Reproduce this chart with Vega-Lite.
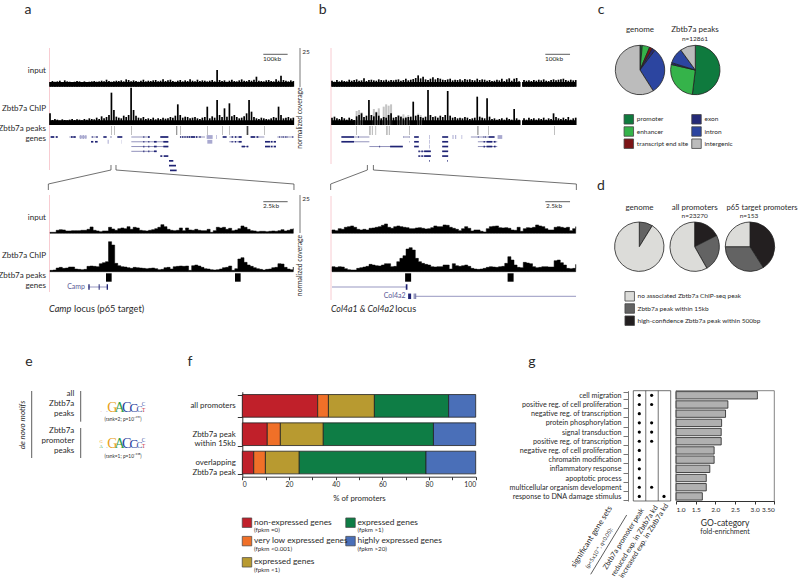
{"$schema":"https://vega.github.io/schema/vega-lite/v6.json","width":798,"height":581,"padding":0,"autosize":{"type":"none"},"background":"white",
"config":{"font":"Lato","view":{"stroke":null},"text":{"baseline":"middle","font":"Lato","fontSize":8,"color":"#2a2a2a"}},
"data":{"values":[{"k":0}]},
"datasets":{
"top":[{"i":0,"ai":14,"ac":35,"bi":18,"bc":22},{"i":1,"ai":17,"ac":15,"bi":15,"bc":25},{"i":2,"ai":15,"ac":18,"bi":20,"bc":20},{"i":3,"ai":16,"ac":16,"bi":16,"bc":18},{"i":4,"ai":18,"ac":13,"bi":19,"bc":24},{"i":5,"ai":14,"ac":17,"bi":17,"bc":20},{"i":6,"ai":19,"ac":15,"bi":16,"bc":16},{"i":7,"ai":16,"ac":14,"bi":21,"bc":22},{"i":8,"ai":15,"ac":16,"bi":18,"bc":18},{"i":9,"ai":13,"ac":18,"bi":20,"bc":15},
{"i":10,"ai":15,"ac":15,"bi":22,"bc":26},{"i":11,"ai":17,"ac":17,"bi":18,"bc":30},{"i":12,"ai":16,"ac":16,"bi":19,"bc":35},{"i":13,"ai":14,"ac":14,"bi":25,"bc":24},{"i":14,"ai":16,"ac":18,"bi":17,"bc":28},{"i":15,"ai":10,"ac":16,"bi":20,"bc":75},{"i":16,"ai":15,"ac":20,"bi":21,"bc":30},{"i":17,"ai":16,"ac":18,"bi":19,"bc":26},{"i":18,"ai":17,"ac":17,"bi":18,"bc":38},{"i":19,"ai":15,"ac":22,"bi":22,"bc":28},
{"i":20,"ai":16,"ac":18,"bi":20,"bc":20},{"i":21,"ai":18,"ac":26,"bi":19,"bc":24},{"i":22,"ai":16,"ac":20,"bi":21,"bc":22},{"i":23,"ai":21,"ac":24,"bi":18,"bc":30},{"i":24,"ai":17,"ac":30,"bi":20,"bc":35},{"i":25,"ai":15,"ac":97,"bi":19,"bc":22},{"i":26,"ai":16,"ac":45,"bi":21,"bc":24},{"i":27,"ai":18,"ac":25,"bi":22,"bc":28},{"i":28,"ai":17,"ac":22,"bi":18,"bc":25},{"i":29,"ai":19,"ac":20,"bi":20,"bc":20},
{"i":30,"ai":16,"ac":28,"bi":24,"bc":22},{"i":31,"ai":22,"ac":24,"bi":19,"bc":24},{"i":32,"ai":20,"ac":30,"bi":21,"bc":25},{"i":33,"ai":16,"ac":112,"bi":23,"bc":70},{"i":34,"ai":19,"ac":45,"bi":26,"bc":28},{"i":35,"ai":17,"ac":28,"bi":34,"bc":30},{"i":36,"ai":15,"ac":22,"bi":25,"bc":24},{"i":37,"ai":18,"ac":20,"bi":30,"bc":22},{"i":38,"ai":21,"ac":24,"bi":22,"bc":25},{"i":39,"ai":16,"ac":18,"bi":20,"bc":105},
{"i":40,"ai":18,"ac":20,"bi":24,"bc":30},{"i":41,"ai":17,"ac":18,"bi":28,"bc":24},{"i":42,"ai":19,"ac":22,"bi":22,"bc":26},{"i":43,"ai":20,"ac":17,"bi":26,"bc":22},{"i":44,"ai":16,"ac":20,"bi":24,"bc":28},{"i":45,"ai":18,"ac":18,"bi":21,"bc":24},{"i":46,"ai":22,"ac":22,"bi":20,"bc":30},{"i":47,"ai":17,"ac":19,"bi":22,"bc":102},{"i":48,"ai":19,"ac":20,"bi":24,"bc":28},{"i":49,"ai":21,"ac":24,"bi":19,"bc":22},
{"i":50,"ai":17,"ac":22,"bi":21,"bc":24},{"i":51,"ai":15,"ac":28,"bi":20,"bc":20},{"i":52,"ai":18,"ac":62,"bi":22,"bc":22},{"i":53,"ai":20,"ac":30,"bi":19,"bc":20},{"i":54,"ai":16,"ac":22,"bi":23,"bc":24},{"i":55,"ai":19,"ac":25,"bi":21,"bc":22},{"i":56,"ai":17,"ac":24,"bi":22,"bc":18},{"i":57,"ai":22,"ac":20,"bi":20,"bc":20},{"i":58,"ai":18,"ac":22,"bi":19,"bc":22},{"i":59,"ai":16,"ac":24,"bi":24,"bc":85},
{"i":60,"ai":21,"ac":20,"bi":20,"bc":25},{"i":61,"ai":17,"ac":18,"bi":22,"bc":22},{"i":62,"ai":19,"ac":22,"bi":21,"bc":20},{"i":63,"ai":18,"ac":24,"bi":18,"bc":80},{"i":64,"ai":16,"ac":55,"bi":20,"bc":25},{"i":65,"ai":18,"ac":20,"bi":17,"bc":18},{"i":66,"ai":20,"ac":26,"bi":18,"bc":20},{"i":67,"ai":16,"ac":22,"bi":21,"bc":16},{"i":68,"ai":50,"ac":75,"bi":19,"bc":18},{"i":69,"ai":20,"ac":30,"bi":24,"bc":20},
{"i":70,"ai":17,"ac":24,"bi":17,"bc":16},{"i":71,"ai":19,"ac":50,"bi":22,"bc":22},{"i":72,"ai":15,"ac":25,"bi":25,"bc":18},{"i":73,"ai":18,"ac":65,"bi":18,"bc":16},{"i":74,"ai":21,"ac":26,"bi":24,"bc":48},{"i":75,"ai":17,"ac":30,"bi":26,"bc":20},{"i":76,"ai":16,"ac":24,"bi":16,"bc":16},{"i":77,"ai":19,"ac":20,"bi":0,"bc":0},{"i":78,"ai":22,"ac":22,"bi":20,"bc":20},{"i":79,"ai":18,"ac":26,"bi":18,"bc":16},
{"i":80,"ai":17,"ac":35,"bi":19,"bc":22},{"i":81,"ai":20,"ac":75,"bi":17,"bc":18},{"i":82,"ai":18,"ac":40,"bi":20,"bc":20},{"i":83,"ai":21,"ac":24,"bi":18,"bc":16},{"i":84,"ai":30,"ac":20,"bi":21,"bc":20},{"i":85,"ai":18,"ac":18,"bi":19,"bc":18},{"i":86,"ai":17,"ac":22,"bi":22,"bc":22},{"i":87,"ai":16,"ac":20,"bi":18,"bc":16},{"i":88,"ai":19,"ac":18,"bi":17,"bc":20},{"i":89,"ai":20,"ac":17,"bi":20,"bc":18},
{"i":90,"ai":17,"ac":20,"bi":22,"bc":35},{"i":91,"ai":16,"ac":24,"bi":19,"bc":24},{"i":92,"ai":22,"ac":22,"bi":21,"bc":20},{"i":93,"ai":18,"ac":55,"bi":22,"bc":18},{"i":94,"ai":33,"ac":30,"bi":24,"bc":22},{"i":95,"ai":20,"ac":20,"bi":20,"bc":18},{"i":96,"ai":18,"ac":22,"bi":18,"bc":24},{"i":97,"ai":16,"ac":24,"bi":21,"bc":16},{"i":98,"ai":19,"ac":20,"bi":19,"bc":20},{"i":99,"ai":17,"ac":22,"bi":20,"bc":22}],
"low":[{"i":0,"ai":3,"ac":4,"bi":10,"bc":15},{"i":1,"ai":3,"ac":5,"bi":8,"bc":13},{"i":2,"ai":9,"ac":11,"bi":14,"bc":15},{"i":3,"ai":11,"ac":13,"bi":12,"bc":14},{"i":4,"ai":10,"ac":10,"bi":18,"bc":9},{"i":5,"ai":7,"ac":11,"bi":20,"bc":6},{"i":6,"ai":7,"ac":14,"bi":22,"bc":5},{"i":7,"ai":8,"ac":14,"bi":18,"bc":5},{"i":8,"ai":8,"ac":8,"bi":12,"bc":10},{"i":9,"ai":8,"ac":7,"bi":10,"bc":12},
{"i":10,"ai":9,"ac":6,"bi":12,"bc":14},{"i":11,"ai":9,"ac":7,"bi":10,"bc":16},{"i":12,"ai":12,"ac":16,"bi":15,"bc":22},{"i":13,"ai":19,"ac":17,"bi":16,"bc":20},{"i":14,"ai":9,"ac":16,"bi":18,"bc":18},{"i":15,"ai":7,"ac":15,"bi":20,"bc":17},{"i":16,"ai":5,"ac":24,"bi":24,"bc":20},{"i":17,"ai":7,"ac":27,"bi":28,"bc":24},{"i":18,"ai":7,"ac":30,"bi":18,"bc":24},{"i":19,"ai":18,"ac":90,"bi":15,"bc":15},
{"i":20,"ai":13,"ac":80,"bi":20,"bc":16},{"i":21,"ai":9,"ac":25,"bi":22,"bc":30},{"i":22,"ai":14,"ac":18,"bi":20,"bc":40},{"i":23,"ai":16,"ac":15,"bi":18,"bc":48},{"i":24,"ai":14,"ac":14,"bi":17,"bc":68},{"i":25,"ai":20,"ac":12,"bi":14,"bc":72},{"i":26,"ai":12,"ac":10,"bi":14,"bc":65},{"i":27,"ai":18,"ac":13,"bi":16,"bc":40},{"i":28,"ai":16,"ac":12,"bi":17,"bc":30},{"i":29,"ai":9,"ac":11,"bi":15,"bc":25},
{"i":30,"ai":8,"ac":10,"bi":13,"bc":22},{"i":31,"ai":7,"ac":9,"bi":14,"bc":20},{"i":32,"ai":9,"ac":10,"bi":17,"bc":15},{"i":33,"ai":11,"ac":11,"bi":22,"bc":14},{"i":34,"ai":14,"ac":9,"bi":20,"bc":15},{"i":35,"ai":18,"ac":6,"bi":20,"bc":15},{"i":36,"ai":26,"ac":7,"bi":25,"bc":20},{"i":37,"ai":20,"ac":12,"bi":24,"bc":20},{"i":38,"ai":12,"ac":13,"bi":18,"bc":8},{"i":39,"ai":9,"ac":8,"bi":15,"bc":24},
{"i":40,"ai":8,"ac":15,"bi":12,"bc":18},{"i":41,"ai":9,"ac":16,"bi":8,"bc":16},{"i":42,"ai":16,"ac":17,"bi":14,"bc":18},{"i":43,"ai":8,"ac":16,"bi":20,"bc":20},{"i":44,"ai":16,"ac":17,"bi":15,"bc":16},{"i":45,"ai":10,"ac":4,"bi":7,"bc":10},{"i":46,"ai":9,"ac":18,"bi":10,"bc":8},{"i":47,"ai":12,"ac":20,"bi":10,"bc":7},{"i":48,"ai":9,"ac":17,"bi":6,"bc":8},{"i":49,"ai":8,"ac":13,"bi":4,"bc":10},
{"i":50,"ai":8,"ac":9,"bi":14,"bc":13},{"i":51,"ai":12,"ac":8,"bi":20,"bc":15},{"i":52,"ai":3,"ac":6,"bi":21,"bc":14},{"i":53,"ai":8,"ac":5,"bi":22,"bc":13},{"i":54,"ai":18,"ac":6,"bi":17,"bc":15},{"i":55,"ai":16,"ac":8,"bi":16,"bc":16},{"i":56,"ai":18,"ac":12,"bi":17,"bc":25},{"i":57,"ai":12,"ac":13,"bi":15,"bc":45},{"i":58,"ai":15,"ac":17,"bi":10,"bc":35},{"i":59,"ai":8,"ac":4,"bi":9,"bc":20},
{"i":60,"ai":10,"ac":9,"bi":18,"bc":13},{"i":61,"ai":14,"ac":38,"bi":6,"bc":12},{"i":62,"ai":22,"ac":42,"bi":14,"bc":28},{"i":63,"ai":18,"ac":28,"bi":17,"bc":26},{"i":64,"ai":12,"ac":20,"bi":16,"bc":24},{"i":65,"ai":8,"ac":16,"bi":18,"bc":15},{"i":66,"ai":7,"ac":12,"bi":25,"bc":12},{"i":67,"ai":5,"ac":9,"bi":22,"bc":13},{"i":68,"ai":6,"ac":7,"bi":20,"bc":15},{"i":69,"ai":6,"ac":5,"bi":14,"bc":15},
{"i":70,"ai":5,"ac":7,"bi":10,"bc":14},{"i":71,"ai":6,"ac":8,"bi":10,"bc":14},{"i":72,"ai":7,"ac":12,"bi":18,"bc":33},{"i":73,"ai":6,"ac":13,"bi":20,"bc":35},{"i":74,"ai":8,"ac":24,"bi":18,"bc":27},{"i":75,"ai":11,"ac":23,"bi":16,"bc":20},{"i":76,"ai":7,"ac":13,"bi":18,"bc":10},{"i":77,"ai":9,"ac":8,"bi":8,"bc":9},{"i":78,"ai":12,"ac":6,"bi":14,"bc":10},{"i":79,"ai":14,"ac":14,"bi":20,"bc":22}],
"genesA":[{"r":0,"s":2,"e":23,"k":"i"},{"r":0,"s":58,"e":78,"k":"i"},{"r":0,"s":88,"e":110,"k":"ip"},{"r":0,"s":123,"e":143,"k":"i"},{"r":0,"s":244,"e":300,"k":"i"},{"r":0,"s":331,"e":355,"k":"i"},{"r":0,"s":390,"e":465,"k":"i"},{"r":0,"s":538,"e":575,"k":"i"},{"r":0,"s":602,"e":643,"k":"i"},{"r":0,"s":682,"e":730,"k":"i"},
{"r":0,"s":2,"e":12,"k":"e"},{"r":0,"s":18,"e":23,"k":"e"},{"r":0,"s":63,"e":68,"k":"e"},{"r":0,"s":70,"e":77,"k":"e"},{"r":0,"s":90,"e":94,"k":"ep"},{"r":0,"s":98,"e":102,"k":"ep"},{"r":0,"s":106,"e":109,"k":"ep"},{"r":0,"s":126,"e":128,"k":"e"},{"r":0,"s":138,"e":140,"k":"e"},{"r":0,"s":142,"e":144,"k":"e"},{"r":0,"s":160,"e":170,"k":"e"},{"r":0,"s":182,"e":184,"k":"e"},{"r":0,"s":202,"e":217,"k":"e"},{"r":0,"s":280,"e":283,"k":"e"},{"r":0,"s":294,"e":299,"k":"e"},{"r":0,"s":331,"e":355,"k":"e"},{"r":0,"s":390,"e":393,"k":"e"},{"r":0,"s":396,"e":399,"k":"e"},{"r":0,"s":401,"e":404,"k":"e"},{"r":0,"s":406,"e":409,"k":"e"},{"r":0,"s":411,"e":414,"k":"e"},{"r":0,"s":416,"e":421,"k":"e"},{"r":0,"s":423,"e":435,"k":"e"},{"r":0,"s":438,"e":442,"k":"e"},{"r":0,"s":448,"e":452,"k":"e"},{"r":0,"s":470,"e":488,"k":"ep"},{"r":0,"s":499,"e":501,"k":"ep"},{"r":0,"s":518,"e":530,"k":"e"},{"r":0,"s":545,"e":549,"k":"e"},{"r":0,"s":555,"e":559,"k":"e"},{"r":0,"s":566,"e":575,"k":"e"},{"r":0,"s":602,"e":615,"k":"e"},{"r":0,"s":620,"e":625,"k":"e"},{"r":0,"s":688,"e":690,"k":"e"},{"r":0,"s":695,"e":697,"k":"e"},{"r":0,"s":700,"e":702,"k":"e"},{"r":0,"s":706,"e":708,"k":"e"},{"r":0,"s":710,"e":712,"k":"e"},{"r":0,"s":727,"e":730,"k":"e"},
{"r":1,"s":123,"e":130,"k":"e"},{"r":1,"s":135,"e":143,"k":"e"},{"r":1,"s":173,"e":176,"k":"ep"},{"r":1,"s":214,"e":215,"k":"ep"},{"r":1,"s":244,"e":355,"k":"i"},{"r":1,"s":280,"e":283,"k":"e"},{"r":1,"s":295,"e":298,"k":"e"},{"r":1,"s":312,"e":320,"k":"e"},{"r":1,"s":340,"e":355,"k":"e"},{"r":1,"s":472,"e":487,"k":"ep"},{"r":1,"s":538,"e":575,"k":"i"},{"r":1,"s":545,"e":548,"k":"e"},{"r":1,"s":555,"e":558,"k":"e"},{"r":1,"s":566,"e":575,"k":"e"},{"r":1,"s":645,"e":660,"k":"e"},{"r":1,"s":662,"e":668,"k":"e"},{"r":1,"s":671,"e":678,"k":"e"},
{"r":2,"s":244,"e":355,"k":"i"},{"r":2,"s":280,"e":283,"k":"e"},{"r":2,"s":295,"e":298,"k":"e"},{"r":2,"s":312,"e":320,"k":"e"},{"r":2,"s":340,"e":355,"k":"e"},{"r":2,"s":575,"e":595,"k":"i"},{"r":2,"s":575,"e":585,"k":"e"},{"r":2,"s":590,"e":595,"k":"e"},{"r":2,"s":645,"e":660,"k":"e"},{"r":2,"s":662,"e":668,"k":"e"},{"r":2,"s":671,"e":678,"k":"e"},
{"r":3,"s":244,"e":320,"k":"i"},{"r":3,"s":280,"e":283,"k":"e"},{"r":3,"s":295,"e":298,"k":"e"},{"r":3,"s":312,"e":320,"k":"e"},{"r":4,"s":331,"e":337,"k":"e"},{"r":4,"s":341,"e":355,"k":"e"},{"r":5,"s":357,"e":370,"k":"e"},{"r":6,"s":357,"e":378,"k":"e"},{"r":7,"s":360,"e":380,"k":"e"}],
"genesB":[{"r":0,"s":66,"e":112,"k":"i"},{"r":0,"s":28,"e":66,"k":"e"},{"r":0,"s":78,"e":80,"k":"e"},{"r":0,"s":214,"e":232,"k":"i"},{"r":0,"s":214,"e":215,"k":"e"},{"r":0,"s":231,"e":232,"k":"e"},{"r":0,"s":246,"e":260,"k":"e"},{"r":0,"s":291,"e":293,"k":"ep"},{"r":0,"s":330,"e":348,"k":"e"},{"r":0,"s":361,"e":364,"k":"ep"},{"r":0,"s":369,"e":372,"k":"ep"},{"r":0,"s":388,"e":390,"k":"ep"},{"r":0,"s":416,"e":469,"k":"i"},{"r":0,"s":437,"e":439,"k":"e"},{"r":0,"s":454,"e":456,"k":"e"},{"r":0,"s":459,"e":461,"k":"e"},{"r":0,"s":469,"e":487,"k":"e"},{"r":0,"s":496,"e":510,"k":"ep"},
{"r":1,"s":66,"e":112,"k":"i"},{"r":1,"s":28,"e":66,"k":"e"},{"r":1,"s":232,"e":233,"k":"e"},{"r":1,"s":246,"e":260,"k":"e"},{"r":1,"s":291,"e":293,"k":"ep"},{"r":1,"s":330,"e":348,"k":"e"},{"r":1,"s":437,"e":495,"k":"i"},{"r":1,"s":454,"e":458,"k":"e"},{"r":1,"s":463,"e":480,"k":"e"},{"r":1,"s":485,"e":490,"k":"e"},
{"r":2,"s":112,"e":212,"k":"i"},{"r":2,"s":142,"e":144,"k":"e"},{"r":2,"s":174,"e":212,"k":"e"},{"r":2,"s":246,"e":260,"k":"e"},{"r":2,"s":291,"e":293,"k":"ep"},{"r":2,"s":330,"e":348,"k":"e"},{"r":2,"s":437,"e":495,"k":"i"},{"r":2,"s":454,"e":458,"k":"e"},{"r":2,"s":463,"e":480,"k":"e"},{"r":2,"s":485,"e":490,"k":"e"},
{"r":3,"s":259,"e":296,"k":"i"},{"r":3,"s":259,"e":263,"k":"e"},{"r":3,"s":268,"e":272,"k":"e"},{"r":3,"s":276,"e":296,"k":"e"},{"r":3,"s":330,"e":348,"k":"e"},{"r":4,"s":259,"e":296,"k":"i"},{"r":4,"s":259,"e":263,"k":"e"},{"r":4,"s":268,"e":272,"k":"e"},{"r":4,"s":276,"e":296,"k":"e"},{"r":4,"s":330,"e":348,"k":"e"},{"r":5,"s":291,"e":293,"k":"e"},{"r":5,"s":345,"e":347,"k":"e"}],
"go":[{"term":"cell migration","fe":3.07},{"term":"positive reg. of cell proliferation","fe":2.32},{"term":"negative reg. of transcription","fe":2.26},{"term":"protein phosphorylation","fe":2.16},{"term":"signal transduction","fe":2.15},{"term":"positive reg. of transcription","fe":2.15},{"term":"negative reg. of cell proliferation","fe":1.97},{"term":"chromatin modification","fe":1.97},{"term":"inflammatory response","fe":1.86},{"term":"apoptotic process","fe":1.77},{"term":"multicellular organism development","fe":1.77},{"term":"response to DNA damage stimulus","fe":1.67}],
"dots":[{"term":"cell migration","set":"peak"},{"term":"cell migration","set":"reduced"},{"term":"positive reg. of cell proliferation","set":"peak"},{"term":"positive reg. of cell proliferation","set":"reduced"},{"term":"negative reg. of transcription","set":"peak"},{"term":"protein phosphorylation","set":"peak"},{"term":"protein phosphorylation","set":"reduced"},{"term":"signal transduction","set":"peak"},{"term":"signal transduction","set":"reduced"},{"term":"positive reg. of transcription","set":"peak"},{"term":"positive reg. of transcription","set":"reduced"},{"term":"negative reg. of cell proliferation","set":"peak"},{"term":"chromatin modification","set":"peak"},{"term":"inflammatory response","set":"peak"},{"term":"apoptotic process","set":"peak"},{"term":"multicellular organism development","set":"peak"},{"term":"multicellular organism development","set":"reduced"},{"term":"response to DNA damage stimulus","set":"peak"},{"term":"response to DNA damage stimulus","set":"increased"}],
"expr":[{"c":"all promoters","g":"non-expressed genes","o":1,"p":32.3},{"c":"all promoters","g":"very low expressed genes","o":2,"p":4.6},{"c":"all promoters","g":"expressed genes (fpkm <1)","o":3,"p":19.7},{"c":"all promoters","g":"expressed genes (fpkm >1)","o":4,"p":31.8},{"c":"all promoters","g":"highly expressed genes","o":5,"p":11.6},
{"c":"Zbtb7a peak|within 15kb","g":"non-expressed genes","o":1,"p":10.7},{"c":"Zbtb7a peak|within 15kb","g":"very low expressed genes","o":2,"p":5.6},{"c":"Zbtb7a peak|within 15kb","g":"expressed genes (fpkm <1)","o":3,"p":18.4},{"c":"Zbtb7a peak|within 15kb","g":"expressed genes (fpkm >1)","o":4,"p":47.2},{"c":"Zbtb7a peak|within 15kb","g":"highly expressed genes","o":5,"p":18.1},
{"c":"overlapping|Zbtb7a peak","g":"non-expressed genes","o":1,"p":4.9},{"c":"overlapping|Zbtb7a peak","g":"very low expressed genes","o":2,"p":5},{"c":"overlapping|Zbtb7a peak","g":"expressed genes (fpkm <1)","o":3,"p":14.5},{"c":"overlapping|Zbtb7a peak","g":"expressed genes (fpkm >1)","o":4,"p":54.3},{"c":"overlapping|Zbtb7a peak","g":"highly expressed genes","o":5,"p":21.3}],
"exprLegend":[{"g":"non-expressed genes","col":"a","row":0,"main":"non-expressed genes","sub":"(fpkm =0)"},{"g":"very low expressed genes","col":"a","row":1,"main":"very low expressed genes","sub":"(fpkm <0.001)"},{"g":"expressed genes (fpkm <1)","col":"a","row":2.15,"main":"expressed genes","sub":"(fpkm <1)"},{"g":"expressed genes (fpkm >1)","col":"b","row":0,"main":"expressed genes","sub":"(fpkm >1)"},{"g":"highly expressed genes","col":"b","row":1,"main":"highly expressed genes","sub":"(fpkm >20)"}],
"pieC":[{"pie":"genome","cl":"promoter","a":0,"b":1.5},{"pie":"genome","cl":"enhancer","a":1.5,"b":6.4},{"pie":"genome","cl":"transcript end site","a":6.4,"b":8.3},{"pie":"genome","cl":"exon","a":8.3,"b":10.3},{"pie":"genome","cl":"intron","a":10.3,"b":41},{"pie":"genome","cl":"intergenic","a":41,"b":100},{"pie":"peaks","cl":"promoter","a":0,"b":51.9},{"pie":"peaks","cl":"enhancer","a":51.9,"b":78.6},{"pie":"peaks","cl":"exon","a":78.6,"b":79.8},{"pie":"peaks","cl":"intron","a":79.8,"b":90},{"pie":"peaks","cl":"intergenic","a":90,"b":100}],
"pieD":[{"pie":"genome","cl":"within15","a":0,"b":8.8},{"pie":"genome","cl":"none","a":8.8,"b":100},{"pie":"all","cl":"high","a":0,"b":17.5},{"pie":"all","cl":"within15","a":17.5,"b":41.8},{"pie":"all","cl":"none","a":41.8,"b":100},{"pie":"p65","cl":"high","a":0,"b":41},{"pie":"p65","cl":"within15","a":41,"b":75},{"pie":"p65","cl":"none","a":75,"b":100}],
"logo1":[{"pos":0,"base":0,"l":"T","bits":0.25},{"pos":1,"base":0,"l":"C","bits":0.3},{"pos":1.9,"base":0,"l":"G","bits":1.9},{"pos":3.1,"base":0,"l":"A","bits":1.9},{"pos":4.3,"base":0,"l":"C","bits":1.9},{"pos":5.45,"base":0,"l":"C","bits":1.7},{"pos":6.4,"base":0,"l":"C","bits":1.2},{"pos":7.1,"base":0.8,"l":"C","bits":0.7},{"pos":7.1,"base":0,"l":"T","bits":0.7}],
"logo2":[{"pos":0,"base":0.7,"l":"G","bits":0.6},{"pos":0,"base":0,"l":"A","bits":0.6},{"pos":1,"base":0,"l":"C","bits":0.3},{"pos":1.9,"base":0,"l":"G","bits":1.9},{"pos":3.1,"base":0,"l":"A","bits":1.9},{"pos":4.3,"base":0,"l":"C","bits":1.9},{"pos":5.45,"base":0,"l":"C","bits":1.7},{"pos":6.4,"base":0,"l":"C","bits":1.2},{"pos":7.1,"base":0.8,"l":"C","bits":0.7},{"pos":7.1,"base":0,"l":"T","bits":0.7}]
},
"resolve":{"scale":{"x":"independent","y":"independent","color":"independent","strokeWidth":"independent","size":"independent","theta":"independent"},"axis":{"x":"independent","y":"independent"}},
"layer":[
{"mark":{"type":"rule","color":"#f8ccd2","strokeWidth":1},"encoding":{"x":{"value":49.5},"y":{"value":48},"y2":{"value":170}}},
{"mark":{"type":"rule","color":"#f8ccd2","strokeWidth":1},"encoding":{"x":{"value":49.5},"y":{"value":195},"y2":{"value":292}}},
{"mark":{"type":"rule","color":"#f8ccd2","strokeWidth":1},"encoding":{"x":{"value":331},"y":{"value":48},"y2":{"value":164}}},
{"mark":{"type":"rule","color":"#f8ccd2","strokeWidth":1},"encoding":{"x":{"value":331},"y":{"value":196},"y2":{"value":300}}},

{"data":{"values":[{"s":0,"e":99,"h":14}]},"mark":{"type":"rect","color":"black"},"encoding":{"x":{"field":"s","type":"quantitative","axis":null,"scale":{"domain":[0,99],"range":[50,293.3],"nice":false}},"x2":{"field":"e"},"y":{"field":"h","type":"quantitative","axis":null,"scale":{"domain":[0,114],"range":[86.7,48.7],"nice":false}},"y2":{"datum":0}}},
{"data":{"values":[{"s":0,"e":99,"h":14}]},"mark":{"type":"rect","color":"black"},"encoding":{"x":{"field":"s","type":"quantitative","axis":null,"scale":{"domain":[0,99],"range":[50,293.3],"nice":false}},"x2":{"field":"e"},"y":{"field":"h","type":"quantitative","axis":null,"scale":{"domain":[0,114],"range":[125,87],"nice":false}},"y2":{"datum":0}}},
{"data":{"values":[{"s":0,"e":76.6,"h":14},{"s":77.2,"e":99,"h":14}]},"mark":{"type":"rect","color":"black"},"encoding":{"x":{"field":"s","type":"quantitative","axis":null,"scale":{"domain":[0,99],"range":[332,575.7],"nice":false}},"x2":{"field":"e"},"y":{"field":"h","type":"quantitative","axis":null,"scale":{"domain":[0,114],"range":[86.7,48.7],"nice":false}},"y2":{"datum":0}}},
{"data":{"values":[{"s":0,"e":76.6,"h":14},{"s":77.2,"e":99,"h":14}]},"mark":{"type":"rect","color":"black"},"encoding":{"x":{"field":"s","type":"quantitative","axis":null,"scale":{"domain":[0,99],"range":[332,575.7],"nice":false}},"x2":{"field":"e"},"y":{"field":"h","type":"quantitative","axis":null,"scale":{"domain":[0,114],"range":[125,87],"nice":false}},"y2":{"datum":0}}},
{"data":{"values":[{"i":10,"v":42},{"i":11,"v":45},{"i":12,"v":38},{"i":17,"v":48},{"i":18,"v":40},{"i":19,"v":50},{"i":21,"v":55},{"i":22,"v":62},{"i":23,"v":58},{"i":24,"v":62},{"i":27,"v":30},{"i":28,"v":26},{"i":29,"v":32},{"i":30,"v":25},{"i":31,"v":30},{"i":35,"v":34},{"i":36,"v":30}]},"mark":{"type":"rule","color":"#c4c4c4","strokeWidth":2},"encoding":{"x":{"field":"i","type":"quantitative","axis":null,"scale":{"domain":[0,99],"range":[332,575.7],"nice":false}},"y":{"field":"v","type":"quantitative","axis":null,"scale":{"domain":[0,114],"range":[125,87],"nice":false}},"y2":{"datum":0}}},
{"data":{"name":"top"},"mark":{"type":"rule","color":"black","strokeWidth":1.7},"encoding":{"x":{"field":"i","type":"quantitative","axis":null,"scale":{"domain":[0,99],"range":[50,293.3],"nice":false}},"y":{"field":"ai","type":"quantitative","axis":null,"scale":{"domain":[0,114],"range":[86.7,48.7],"nice":false}},"y2":{"datum":0}}},
{"data":{"name":"top"},"mark":{"type":"rule","color":"black","strokeWidth":1.7},"encoding":{"x":{"field":"i","type":"quantitative","axis":null,"scale":{"domain":[0,99],"range":[50,293.3],"nice":false}},"y":{"field":"ac","type":"quantitative","axis":null,"scale":{"domain":[0,114],"range":[125,87],"nice":false}},"y2":{"datum":0}}},
{"data":{"name":"top"},"mark":{"type":"rule","color":"black","strokeWidth":1.7},"encoding":{"x":{"field":"i","type":"quantitative","axis":null,"scale":{"domain":[0,99],"range":[332,575.7],"nice":false}},"y":{"field":"bi","type":"quantitative","axis":null,"scale":{"domain":[0,114],"range":[86.7,48.7],"nice":false}},"y2":{"datum":0}}},
{"data":{"name":"top"},"mark":{"type":"rule","color":"black","strokeWidth":1.7},"encoding":{"x":{"field":"i","type":"quantitative","axis":null,"scale":{"domain":[0,99],"range":[332,575.7],"nice":false}},"y":{"field":"bc","type":"quantitative","axis":null,"scale":{"domain":[0,114],"range":[125,87],"nice":false}},"y2":{"datum":0}}},

{"data":{"name":"low"},"mark":{"type":"area","interpolate":"step-after","color":"black","stroke":"black","strokeWidth":0.5},"encoding":{"x":{"field":"i","type":"quantitative","axis":null,"scale":{"domain":[0,79],"range":[50,293.3],"nice":false}},"y":{"field":"ai","type":"quantitative","axis":null,"scale":{"domain":[0,114],"range":[233.3,195.3],"nice":false}}}},
{"data":{"name":"low"},"mark":{"type":"area","interpolate":"step-after","color":"black","stroke":"black","strokeWidth":0.5},"encoding":{"x":{"field":"i","type":"quantitative","axis":null,"scale":{"domain":[0,79],"range":[50,293.3],"nice":false}},"y":{"field":"ac","type":"quantitative","axis":null,"scale":{"domain":[0,114],"range":[271.7,233.7],"nice":false}}}},
{"data":{"name":"low"},"mark":{"type":"area","interpolate":"step-after","color":"black","stroke":"black","strokeWidth":0.5},"encoding":{"x":{"field":"i","type":"quantitative","axis":null,"scale":{"domain":[0,79],"range":[332,575.7],"nice":false}},"y":{"field":"bi","type":"quantitative","axis":null,"scale":{"domain":[0,114],"range":[233.3,195.3],"nice":false}}}},
{"data":{"name":"low"},"mark":{"type":"area","interpolate":"step-after","color":"black","stroke":"black","strokeWidth":0.5},"encoding":{"x":{"field":"i","type":"quantitative","axis":null,"scale":{"domain":[0,79],"range":[332,575.7],"nice":false}},"y":{"field":"bc","type":"quantitative","axis":null,"scale":{"domain":[0,114],"range":[271.7,233.7],"nice":false}}}},

{"data":{"values":[{"s":184,"e":185,"t":"d"},{"s":193,"e":194,"t":"d"},{"s":244,"e":245,"t":"d"},{"s":378,"e":382,"t":"g"},{"s":391,"e":392,"t":"d"},{"s":472,"e":473,"t":"d"},{"s":517,"e":518,"t":"d"},{"s":538,"e":539,"t":"d"},{"s":590,"e":595,"t":"d"},{"s":643,"e":644,"t":"d"}]},"mark":{"type":"rect"},"encoding":{"x":{"field":"s","type":"quantitative","axis":null,"scale":{"domain":[0,730],"range":[50,293.3],"nice":false}},"x2":{"field":"e"},"y":{"value":126},"y2":{"value":135},"color":{"field":"t","type":"nominal","legend":null,"scale":{"domain":["d","g"],"range":["#444444","#999999"]}}}},
{"data":{"values":[{"s":73,"e":74,"t":"d"},{"s":112,"e":113,"t":"d"},{"s":116,"e":117,"t":"d"},{"s":120,"e":121,"t":"d"},{"s":131,"e":132,"t":"d"},{"s":162,"e":163,"t":"d"},{"s":167,"e":168,"t":"d"},{"s":172,"e":173,"t":"d"},{"s":232,"e":233,"t":"d"},{"s":435,"e":439,"t":"g"},{"s":469,"e":470,"t":"d"},{"s":667,"e":668,"t":"d"}]},"mark":{"type":"rect"},"encoding":{"x":{"field":"s","type":"quantitative","axis":null,"scale":{"domain":[0,730],"range":[332,575.7],"nice":false}},"x2":{"field":"e"},"y":{"value":126},"y2":{"value":135},"color":{"field":"t","type":"nominal","legend":null,"scale":{"domain":["d","g"],"range":["#444444","#999999"]}}}},

{"data":{"name":"genesA"},"mark":{"type":"rule"},"encoding":{"x":{"field":"s","type":"quantitative","axis":null,"scale":{"domain":[0,730],"range":[50,293.3],"nice":false}},"x2":{"field":"e"},"y":{"field":"r","type":"quantitative","axis":null,"scale":{"domain":[0,7],"range":[137,170.4],"nice":false}},"color":{"field":"k","type":"nominal","legend":null,"scale":{"domain":["i","e","ip","ep"],"range":["#4a4a8e","#1f2374","#b5b5d5","#a9a9d0"]}},"strokeWidth":{"field":"k","type":"nominal","legend":null,"scale":{"domain":["i","e","ip","ep"],"range":[0.6,3.8,0.6,3.8]}}}},
{"data":{"name":"genesB"},"mark":{"type":"rule"},"encoding":{"x":{"field":"s","type":"quantitative","axis":null,"scale":{"domain":[0,730],"range":[332,575.7],"nice":false}},"x2":{"field":"e"},"y":{"field":"r","type":"quantitative","axis":null,"scale":{"domain":[0,7],"range":[137,170.4],"nice":false}},"color":{"field":"k","type":"nominal","legend":null,"scale":{"domain":["i","e","ip","ep"],"range":["#4a4a8e","#1f2374","#b5b5d5","#a9a9d0"]}},"strokeWidth":{"field":"k","type":"nominal","legend":null,"scale":{"domain":["i","e","ip","ep"],"range":[0.6,3.8,0.6,3.8]}}}},

{"data":{"values":[{"side":"l","x":-5,"y":0},{"side":"l","x":-5,"y":6},{"side":"l","x":183,"y":20},{"side":"l","x":183,"y":25},{"side":"r","x":198,"y":25},{"side":"r","x":198,"y":20},{"side":"r","x":732,"y":6},{"side":"r","x":732,"y":0}]},"mark":{"type":"line","color":"#333333","strokeWidth":0.7},"encoding":{"x":{"field":"x","type":"quantitative","axis":null,"scale":{"domain":[0,730],"range":[50,293.3],"nice":false}},"y":{"field":"y","type":"quantitative","axis":null,"scale":{"domain":[0,25],"range":[190,165],"nice":false}},"detail":{"field":"side"},"order":{"value":0}}},
{"data":{"values":[{"side":"l","x":-4,"y":0},{"side":"l","x":-4,"y":6},{"side":"l","x":106,"y":20},{"side":"l","x":106,"y":25},{"side":"r","x":124,"y":25},{"side":"r","x":124,"y":20},{"side":"r","x":732,"y":6},{"side":"r","x":732,"y":0}]},"mark":{"type":"line","color":"#333333","strokeWidth":0.7},"encoding":{"x":{"field":"x","type":"quantitative","axis":null,"scale":{"domain":[0,730],"range":[332,575.7],"nice":false}},"y":{"field":"y","type":"quantitative","axis":null,"scale":{"domain":[0,25],"range":[190,165],"nice":false}},"detail":{"field":"side"},"order":{"value":0}}},

{"data":{"values":[{"s":640,"e":713,"lv":"top"},{"s":640,"e":713,"lv":"low"}]},"mark":{"type":"rule","color":"#333333","strokeWidth":0.8},"encoding":{"x":{"field":"s","type":"quantitative","axis":null,"scale":{"domain":[0,730],"range":[50,293.3],"nice":false}},"x2":{"field":"e"},"y":{"field":"lv","type":"nominal","axis":null,"scale":{"type":"point","domain":["top","low"],"range":[54.3,201.7],"padding":0}}}},
{"data":{"values":[{"s":639,"e":713,"lv":"top"},{"s":639,"e":713,"lv":"low"}]},"mark":{"type":"rule","color":"#333333","strokeWidth":0.8},"encoding":{"x":{"field":"s","type":"quantitative","axis":null,"scale":{"domain":[0,730],"range":[332,575.7],"nice":false}},"x2":{"field":"e"},"y":{"field":"lv","type":"nominal","axis":null,"scale":{"type":"point","domain":["top","low"],"range":[54.3,201.7],"padding":0}}}},

{"data":{"values":[{"s":168,"e":185},{"s":555,"e":572}]},"mark":{"type":"rect","color":"black"},"encoding":{"x":{"field":"s","type":"quantitative","axis":null,"scale":{"domain":[0,730],"range":[50,293.3],"nice":false}},"x2":{"field":"e"},"y":{"value":273.3},"y2":{"value":281.7}}},
{"data":{"values":[{"s":219,"e":237},{"s":526,"e":544}]},"mark":{"type":"rect","color":"black"},"encoding":{"x":{"field":"s","type":"quantitative","axis":null,"scale":{"domain":[0,730],"range":[332,575.7],"nice":false}},"x2":{"field":"e"},"y":{"value":273.3},"y2":{"value":281.7}}},
{"data":{"values":[{"s":115,"e":174,"k":"i"},{"s":115,"e":119,"k":"e"},{"s":146,"e":149,"k":"e"},{"s":170,"e":174,"k":"e"}]},"mark":{"type":"rule"},"encoding":{"x":{"field":"s","type":"quantitative","axis":null,"scale":{"domain":[0,730],"range":[50,293.3],"nice":false}},"x2":{"field":"e"},"y":{"value":287},"color":{"field":"k","type":"nominal","legend":null,"scale":{"domain":["i","e"],"range":["#6a6aa6","#1f2374"]}},"strokeWidth":{"field":"k","type":"nominal","legend":null,"scale":{"domain":["i","e"],"range":[0.7,5.5]}}}},
{"data":{"values":[{"r":0,"s":0,"e":224,"k":"i"},{"r":0,"s":221,"e":226,"k":"e"},{"r":1,"s":228,"e":237,"k":"e"},{"r":1,"s":245,"e":247,"k":"e"},{"r":1,"s":250,"e":252,"k":"e"},{"r":1,"s":250,"e":731,"k":"i"}]},"mark":{"type":"rule"},"encoding":{"x":{"field":"s","type":"quantitative","axis":null,"scale":{"domain":[0,730],"range":[332,575.7],"nice":false}},"x2":{"field":"e"},"y":{"field":"r","type":"quantitative","axis":null,"scale":{"domain":[0,1],"range":[287,296.3],"nice":false}},"color":{"field":"k","type":"nominal","legend":null,"scale":{"domain":["i","e"],"range":["#6a6aa6","#1f2374"]}},"strokeWidth":{"field":"k","type":"nominal","legend":null,"scale":{"domain":["i","e"],"range":[0.7,5.5]}}}},

{"mark":{"type":"rule","color":"#555555","strokeWidth":0.8},"encoding":{"x":{"value":300},"y":{"value":48},"y2":{"value":87}}},
{"mark":{"type":"rule","color":"#555555","strokeWidth":0.8},"encoding":{"x":{"value":300},"y":{"value":195},"y2":{"value":233}}},

{"data":{"name":"pieC"},"mark":{"type":"arc","outerRadius":24.7,"stroke":"#222222","strokeWidth":0.8},"encoding":{"x":{"field":"pie","type":"nominal","axis":null,"scale":{"type":"point","domain":["genome","peaks"],"range":[640,695.3],"padding":0}},"y":{"value":70},"theta":{"field":"a","type":"quantitative","scale":{"domain":[0,100],"range":[0,6.2832]}},"theta2":{"field":"b"},"color":{"field":"cl","type":"nominal","legend":null,"scale":{"domain":["promoter","enhancer","transcript end site","exon","intron","intergenic"],"range":["#0f7a3e","#35b34a","#7b1416","#252a77","#2c45a0","#bcbcbc"]}}}},
{"data":{"name":"pieD"},"mark":{"type":"arc","outerRadius":24.7,"stroke":"#222222","strokeWidth":0.8},"encoding":{"x":{"field":"pie","type":"nominal","axis":null,"scale":{"type":"point","domain":["genome","all","p65"],"range":[639.3,750],"padding":0}},"y":{"value":246.7},"theta":{"field":"a","type":"quantitative","scale":{"domain":[0,100],"range":[0,6.2832]}},"theta2":{"field":"b"},"color":{"field":"cl","type":"nominal","legend":null,"scale":{"domain":["none","within15","high"],"range":["#dcdcd9","#636363","#231f20"]}}}},

{"data":{"values":[{"cl":"promoter","col":"a","row":"1"},{"cl":"enhancer","col":"a","row":"2"},{"cl":"transcript end site","col":"a","row":"3"},{"cl":"exon","col":"b","row":"1"},{"cl":"intron","col":"b","row":"2"},{"cl":"intergenic","col":"b","row":"3"}]},"layer":[
{"mark":{"type":"square","size":90,"opacity":1,"stroke":"#444444","strokeWidth":0.8},"encoding":{"x":{"field":"col","type":"nominal","axis":null,"scale":{"type":"point","domain":["a","b"],"range":[628.8,696.5],"padding":0}},"y":{"field":"row","type":"nominal","axis":null,"scale":{"type":"point","domain":["1","2","3"],"range":[119.3,143.7],"padding":0}},"color":{"field":"cl","type":"nominal","legend":null,"scale":{"domain":["promoter","enhancer","transcript end site","exon","intron","intergenic"],"range":["#0f7a3e","#35b34a","#7b1416","#252a77","#2c45a0","#bcbcbc"]}}}},
{"mark":{"type":"text","align":"left","dx":8,"fontSize":6.5},"encoding":{"x":{"field":"col","type":"nominal","axis":null,"scale":{"type":"point","domain":["a","b"],"range":[628.8,696.5],"padding":0}},"y":{"field":"row","type":"nominal","axis":null,"scale":{"type":"point","domain":["1","2","3"],"range":[119.3,143.7],"padding":0}},"text":{"field":"cl"}}}],"resolve":{"scale":{"x":"shared","y":"shared"}}},
{"data":{"values":[{"cl":"none","t":"no associated Zbtb7a ChIP-seq peak"},{"cl":"within15","t":"Zbtb7a peak within 15kb"},{"cl":"high","t":"high-confidence Zbtb7a peak within 500bp"}]},"layer":[
{"mark":{"type":"square","size":90,"opacity":1,"stroke":"#444444","strokeWidth":0.8,"x":629.7},"encoding":{"y":{"field":"cl","type":"nominal","axis":null,"scale":{"type":"point","domain":["none","within15","high"],"range":[296.3,320.7],"padding":0}},"color":{"field":"cl","type":"nominal","legend":null,"scale":{"domain":["none","within15","high"],"range":["#dcdcd9","#636363","#231f20"]}}}},
{"mark":{"type":"text","align":"left","x":637.5,"fontSize":6.5},"encoding":{"y":{"field":"cl","type":"nominal","axis":null,"scale":{"type":"point","domain":["none","within15","high"],"range":[296.3,320.7],"padding":0}},"text":{"field":"t"}}}],"resolve":{"scale":{"y":"shared"}}},

{"data":{"name":"expr"},"mark":{"type":"bar","stroke":"#222222","strokeWidth":0.8},"encoding":{"x":{"field":"p","type":"quantitative","stack":"zero","scale":{"domain":[0,100],"range":[242.3,475.7],"nice":false},"axis":{"orient":"bottom","offset":-104.3,"values":[0,10,20,30,40,50,60,70,80,90,100],"labelExpr":"datum.value % 20 == 0 ? datum.label : ''","grid":false,"tickSize":3,"tickColor":"#333333","domainColor":"#333333","labelFontSize":6.8,"labelPadding":2,"labelColor":"#2a2a2a","title":"% of promoters","titleFontSize":7.8,"titleFontWeight":"normal","titleColor":"#2a2a2a","titlePadding":6}},"y":{"field":"c","type":"nominal","sort":null,"scale":{"type":"band","domain":["all promoters","Zbtb7a peak|within 15kb","overlapping|Zbtb7a peak"],"range":[391.7,476.7],"paddingInner":0.2,"paddingOuter":0.1},"axis":{"orient":"left","offset":-242.3,"title":null,"tickBand":"extent","tickSize":5,"tickColor":"#333333","domainColor":"#333333","labelFontSize":7.9,"labelPadding":2,"labelColor":"#2a2a2a","labelLineHeight":9.5,"labelExpr":"split(datum.label,'|')"}},"order":{"field":"o"},"color":{"field":"g","type":"nominal","legend":null,"scale":{"domain":["non-expressed genes","very low expressed genes","expressed genes (fpkm <1)","expressed genes (fpkm >1)","highly expressed genes"],"range":["#c0202a","#f07028","#b89a30","#0e7d45","#4a6fb8"]}}}},

{"data":{"name":"exprLegend"},"layer":[
{"mark":{"type":"square","size":90,"opacity":1,"stroke":"#444444","strokeWidth":0.7},"encoding":{"x":{"field":"col","type":"nominal","axis":null,"scale":{"type":"point","domain":["a","b"],"range":[247,350.5],"padding":0}},"y":{"field":"row","type":"quantitative","axis":null,"scale":{"domain":[0,2.15],"range":[522.7,562.3],"nice":false}},"color":{"field":"g","type":"nominal","legend":null,"scale":{"domain":["non-expressed genes","very low expressed genes","expressed genes (fpkm <1)","expressed genes (fpkm >1)","highly expressed genes"],"range":["#c0202a","#f07028","#b89a30","#0e7d45","#4a6fb8"]}}}},
{"mark":{"type":"text","align":"left","dx":7,"dy":-1,"fontSize":8.4},"encoding":{"x":{"field":"col","type":"nominal","axis":null,"scale":{"type":"point","domain":["a","b"],"range":[247,350.5],"padding":0}},"y":{"field":"row","type":"quantitative","axis":null,"scale":{"domain":[0,2.15],"range":[522.7,562.3],"nice":false}},"text":{"field":"main"}}},
{"mark":{"type":"text","align":"left","dx":7,"dy":7.5,"fontSize":6.2},"encoding":{"x":{"field":"col","type":"nominal","axis":null,"scale":{"type":"point","domain":["a","b"],"range":[247,350.5],"padding":0}},"y":{"field":"row","type":"quantitative","axis":null,"scale":{"domain":[0,2.15],"range":[522.7,562.3],"nice":false}},"text":{"field":"sub"}}}],"resolve":{"scale":{"x":"shared","y":"shared"}}},

{"data":{"name":"go"},"mark":{"type":"bar","fill":"#b0b0b0","stroke":"#222222","strokeWidth":0.8},"encoding":{"x":{"field":"fe","type":"quantitative","scale":{"domain":[1,3.5],"range":[676,774.3],"nice":false,"zero":false},"axis":{"orient":"bottom","offset":-80,"values":[1,1.5,2,2.5,3,3.5],"labelExpr":"datum.value == 3.5 ? '3.50' : datum.label","grid":false,"tickSize":3,"tickColor":"#333333","domainColor":"#333333","labelFontSize":6.5,"labelPadding":2,"labelColor":"#2a2a2a","title":null}},"x2":{"datum":1},"y":{"field":"term","type":"nominal","sort":null,"scale":{"type":"band","range":[390.7,501],"paddingInner":0.2,"paddingOuter":0.1},"axis":{"orient":"left","offset":-628,"title":null,"tickBand":"extent","tickSize":5,"tickColor":"#777777","domainColor":"#777777","labelFontSize":7.2,"labelPadding":2,"labelColor":"#2a2a2a","labelLimit":200}}}},
{"data":{"values":[{"x":1,"x2":3.5,"y":0,"y2":0},{"x":3.5,"x2":3.5,"y":0,"y2":1},{"x":1,"x2":1,"y":0,"y2":1}]},"mark":{"type":"rule","color":"#666666","strokeWidth":0.8},"encoding":{"x":{"field":"x","type":"quantitative","axis":null,"scale":{"domain":[1,3.5],"range":[676,774.3],"nice":false,"zero":false}},"x2":{"field":"x2"},"y":{"field":"y","type":"quantitative","axis":null,"scale":{"domain":[0,1],"range":[390.7,501],"nice":false}},"y2":{"field":"y2"}}},
{"data":{"values":[{"x":0,"x2":0,"y":0,"y2":1},{"x":1,"x2":1,"y":0,"y2":1},{"x":2,"x2":2,"y":0,"y2":1},{"x":3,"x2":3,"y":0,"y2":1},{"x":0,"x2":3,"y":0,"y2":0},{"x":0,"x2":3,"y":1,"y2":1}]},"mark":{"type":"rule","color":"#333333","strokeWidth":0.7},"encoding":{"x":{"field":"x","type":"quantitative","axis":null,"scale":{"domain":[0,3],"range":[633.3,670.7],"nice":false}},"x2":{"field":"x2"},"y":{"field":"y","type":"quantitative","axis":null,"scale":{"domain":[0,1],"range":[390.7,501],"nice":false}},"y2":{"field":"y2"}}},
{"data":{"name":"dots"},"mark":{"type":"circle","color":"black","opacity":1,"size":10},"encoding":{"x":{"field":"set","type":"nominal","axis":null,"scale":{"type":"point","domain":["peak","reduced","increased"],"range":[639.3,664],"padding":0}},"y":{"field":"term","type":"nominal","sort":null,"axis":null,"scale":{"type":"band","domain":["cell migration","positive reg. of cell proliferation","negative reg. of transcription","protein phosphorylation","signal transduction","positive reg. of transcription","negative reg. of cell proliferation","chromatin modification","inflammatory response","apoptotic process","multicellular organism development","response to DNA damage stimulus"],"range":[390.7,501],"paddingInner":0.2,"paddingOuter":0.1}}}},

{"data":{"name":"logo1"},"mark":{"type":"text","baseline":"alphabetic","font":"Liberation Sans Narrow"},"encoding":{"x":{"field":"pos","type":"quantitative","axis":null,"scale":{"domain":[0,7],"range":[101,143],"nice":false}},"y":{"field":"base","type":"quantitative","axis":null,"scale":{"domain":[0,2],"range":[411.7,396.7],"nice":false}},"text":{"field":"l"},"size":{"field":"bits","type":"quantitative","legend":null,"scale":{"domain":[0,2],"range":[0,15]}},"color":{"field":"l","type":"nominal","legend":null,"scale":{"domain":["G","A","C","T"],"range":["#e8a020","#2e9e48","#2b3f9e","#c8202a"]}}}},
{"data":{"name":"logo2"},"mark":{"type":"text","baseline":"alphabetic","font":"Liberation Sans Narrow"},"encoding":{"x":{"field":"pos","type":"quantitative","axis":null,"scale":{"domain":[0,7],"range":[101,143],"nice":false}},"y":{"field":"base","type":"quantitative","axis":null,"scale":{"domain":[0,2],"range":[448.3,433.3],"nice":false}},"text":{"field":"l"},"size":{"field":"bits","type":"quantitative","legend":null,"scale":{"domain":[0,2],"range":[0,15]}},"color":{"field":"l","type":"nominal","legend":null,"scale":{"domain":["G","A","C","T"],"range":["#e8a020","#2e9e48","#2b3f9e","#c8202a"]}}}},

{"mark":{"type":"rule","color":"#333333","strokeWidth":0.8},"encoding":{"x":{"value":31.7},"y":{"value":391},"y2":{"value":458}}},
{"mark":{"type":"rule","color":"#333333","strokeWidth":0.8},"encoding":{"x":{"value":80.7},"y":{"value":391},"y2":{"value":421.7}}},
{"mark":{"type":"rule","color":"#333333","strokeWidth":0.8},"encoding":{"x":{"value":80.7},"y":{"value":428},"y2":{"value":458}}},
{"mark":{"type":"rule","color":"#333333","strokeWidth":0.8},"encoding":{"x":{"value":590.7},"x2":{"value":626.7},"y":{"value":574.3},"y2":{"value":515}}},

{"mark":{"type":"text","text":"a","x":28,"y":13.5,"fontSize":14,"baseline":"alphabetic"}},
{"mark":{"type":"text","text":"b","x":322.7,"y":13.5,"fontSize":14,"baseline":"alphabetic"}},
{"mark":{"type":"text","text":"c","x":601,"y":13.5,"fontSize":14,"baseline":"alphabetic"}},
{"mark":{"type":"text","text":"d","x":601,"y":190,"fontSize":14,"baseline":"alphabetic"}},
{"mark":{"type":"text","text":"e","x":29,"y":366,"fontSize":14,"baseline":"alphabetic"}},
{"mark":{"type":"text","text":"f","x":190,"y":366,"fontSize":14,"baseline":"alphabetic"}},
{"mark":{"type":"text","text":"g","x":532,"y":366,"fontSize":14,"baseline":"alphabetic"}},

{"mark":{"type":"text","text":"input","x":46,"y":70.7,"align":"right"}},
{"mark":{"type":"text","text":"Zbtb7a ChIP","x":46,"y":109,"align":"right"}},
{"mark":{"type":"text","text":"Zbtb7a peaks","x":46,"y":129,"align":"right"}},
{"mark":{"type":"text","text":"genes","x":46,"y":138.7,"align":"right"}},
{"mark":{"type":"text","text":"input","x":46,"y":217.7,"align":"right"}},
{"mark":{"type":"text","text":"Zbtb7a ChIP","x":46,"y":256,"align":"right"}},
{"mark":{"type":"text","text":"Zbtb7a peaks","x":46,"y":275.7,"align":"right"}},
{"mark":{"type":"text","text":"genes","x":46,"y":285.7,"align":"right"}},
{"mark":{"type":"text","text":"100kb","x":272,"y":58.7,"fontSize":6.5}},
{"mark":{"type":"text","text":"2.5kb","x":271,"y":205.7,"fontSize":6.5}},
{"mark":{"type":"text","text":"100kb","x":554,"y":58.7,"fontSize":6.5}},
{"mark":{"type":"text","text":"2.5kb","x":554,"y":205.7,"fontSize":6.5}},
{"mark":{"type":"text","text":"25","x":306,"y":52.3,"fontSize":6.5}},
{"mark":{"type":"text","text":"25","x":306,"y":199.3,"fontSize":6.5}},
{"mark":{"type":"text","text":"normalized coverage","x":299.5,"y":118,"angle":270,"fontSize":6.8}},
{"mark":{"type":"text","text":"normalized coverage","x":299.5,"y":265.5,"angle":270,"fontSize":6.8}},
{"mark":{"type":"text","text":"Camp","x":85,"y":287,"align":"right","fontSize":7,"color":"#5a5a96"}},
{"mark":{"type":"text","text":"Col4a2","x":405.5,"y":296.3,"align":"right","fontSize":7,"color":"#5a5a96"}},
{"mark":{"type":"text","text":"Camp","x":49,"y":309.3,"align":"left","fontSize":9.2,"fontStyle":"italic"}},
{"mark":{"type":"text","text":"locus (p65 target)","x":74,"y":309.3,"align":"left","fontSize":9.2}},
{"mark":{"type":"text","text":"Col4a1 & Col4a2","x":331,"y":309.3,"align":"left","fontSize":8.8,"fontStyle":"italic"}},
{"mark":{"type":"text","text":"locus","x":395.3,"y":309.3,"align":"left","fontSize":9.2}},

{"mark":{"type":"text","text":"genome","x":640,"y":30,"fontSize":8}},
{"mark":{"type":"text","text":"Zbtb7a peaks","x":695,"y":30,"fontSize":8}},
{"mark":{"type":"text","text":"n=12861","x":695,"y":39,"fontSize":6.5}},
{"mark":{"type":"text","text":"genome","x":639.5,"y":207.5,"fontSize":8}},
{"mark":{"type":"text","text":"all promoters","x":694.7,"y":207.5,"fontSize":8}},
{"mark":{"type":"text","text":"n=23270","x":694.7,"y":216,"fontSize":6.5}},
{"mark":{"type":"text","text":"p65 target promoters","x":762,"y":207.5,"fontSize":7.6}},
{"mark":{"type":"text","text":"n=153","x":749,"y":216,"fontSize":6.5}},

{"mark":{"type":"text","text":"de novo motifs","x":23,"y":425,"angle":270,"fontSize":8,"fontStyle":"italic"}},
{"mark":{"type":"text","text":"all","x":74.3,"y":394.3,"align":"right"}},
{"mark":{"type":"text","text":"Zbtb7a","x":74.3,"y":404.3,"align":"right"}},
{"mark":{"type":"text","text":"peaks","x":74.3,"y":414.3,"align":"right"}},
{"mark":{"type":"text","text":"Zbtb7a","x":74.3,"y":431.3,"align":"right"}},
{"mark":{"type":"text","text":"promoter","x":74.3,"y":441.3,"align":"right"}},
{"mark":{"type":"text","text":"peaks","x":74.3,"y":451.3,"align":"right"}},
{"mark":{"type":"text","text":"(rank=2; p=10⁻²⁵⁷)","x":123,"y":420,"fontSize":4.8}},
{"mark":{"type":"text","text":"(rank=1; p=10⁻¹³⁸)","x":123,"y":456.5,"fontSize":4.8}},

{"mark":{"type":"text","text":"significant gene sets","x":592,"y":537,"angle":302,"fontSize":8}},
{"mark":{"type":"text","text":"(p<5x10⁻⁴, q<0.05):","x":599,"y":548,"angle":302,"fontSize":5.5}},
{"mark":{"type":"text","text":"Zbtb7a promoter peak","x":623.7,"y":539,"angle":302,"fontSize":7.2}},
{"mark":{"type":"text","text":"reduced exp. in Zbtb7a kd","x":634.7,"y":541,"angle":302,"fontSize":7.2}},
{"mark":{"type":"text","text":"increased exp. in Zbtb7a kd","x":644,"y":541,"angle":302,"fontSize":7.2}},
{"mark":{"type":"text","text":"GO-category","x":725,"y":523,"fontSize":8.5}},
{"mark":{"type":"text","text":"fold-enrichment","x":725,"y":532,"fontSize":7}}
]}
